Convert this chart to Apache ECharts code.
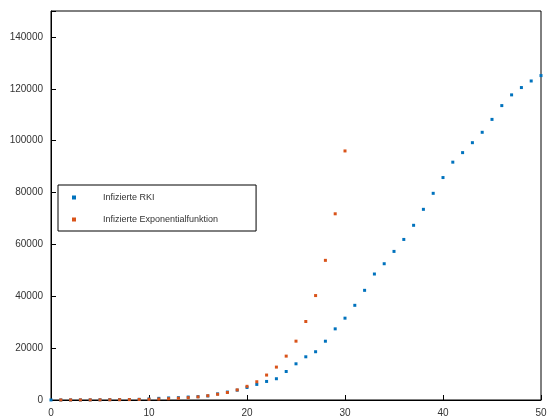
<!DOCTYPE html><html><head><meta charset="utf-8"><script src="https://cdn.jsdelivr.net/npm/echarts@6/dist/echarts.min.js"></script></head><body style="margin:0;background:#fff"><div id="c" style="width:560px;height:420px"></div><script>
const rkiX=[...Array(51).keys()];
const rkiY=[16,18,27,35,48,79,130,159,196,262,400,639,795,902,1139,1296,1567,2369,3062,3795,4838,6012,7156,8198,10999,13957,16662,18610,22672,27436,31554,36508,42288,48582,52547,57298,61913,67366,73522,79696,85778,91714,95391,99225,103228,108202,113525,117658,120479,123016,125098];
const expX=[1,2,3,4,5,6,7,8,9,10,11,12,13,14,15,16,17,18,19,20,21,22,23,24,25,26,27,28,29,30];
const expY=[20,28,37,50,65,90,120,160,210,280,380,500,680,900,1200,1650,2200,2900,3900,5270,7040,9620,12690,16920,22690,30270,40270,53850,71800,96040];
const yTicks=[0,20000,40000,60000,80000,100000,120000,140000];
const c=echarts.init(document.getElementById('c'));
const txt={color:'#333',fontSize:10,fontFamily:'Liberation Sans'};
c.setOption({animation:false,
grid:{left:51,right:19,top:11,bottom:20,show:true,borderColor:'#000',borderWidth:1},
legend:{left:58,top:185,orient:'vertical',itemWidth:4,itemHeight:4,itemGap:13,padding:[8,38,7,14],borderColor:'#000',borderWidth:1,textStyle:{fontSize:9,color:'#333',fontFamily:'Liberation Sans',padding:[0,0,0,22]},
 data:[{name:'Infizierte RKI',icon:'rect'},{name:'Infizierte Exponentialfunktion',icon:'rect'}]},
xAxis:{type:'value',min:0,max:50,interval:10,axisLine:{lineStyle:{color:'#000'}},axisTick:{inside:true},splitLine:{show:false},axisLabel:txt},
yAxis:{type:'value',min:0,max:150000,interval:20000,axisLine:{lineStyle:{color:'#000'}},axisTick:{inside:true},splitLine:{show:false},axisLabel:Object.assign({},txt,{formatter:v=>yTicks.includes(v)?String(v):''})},
series:[
{name:'Infizierte RKI',type:'scatter',symbol:'rect',symbolSize:3,itemStyle:{color:'#0072bd',opacity:1},data:rkiX.map((x,i)=>[x,rkiY[i]])},
{name:'Infizierte Exponentialfunktion',type:'scatter',symbol:'rect',symbolSize:3,itemStyle:{color:'#d95319',opacity:1},data:expX.map((x,i)=>[x,expY[i]])}
]});
</script></body></html>
